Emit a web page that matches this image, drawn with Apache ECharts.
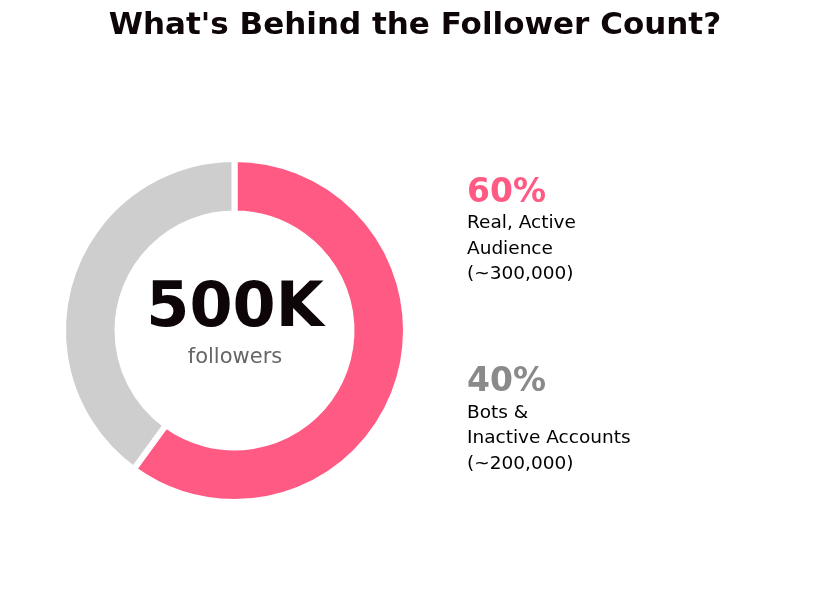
<!DOCTYPE html>
<html>
<head>
<meta charset="utf-8">
<script src="https://cdn.jsdelivr.net/npm/echarts@6/dist/echarts.min.js"></script>
<style>html,body{margin:0;padding:0;background:#fff;}#c{width:830px;height:600px;}</style>
</head>
<body>
<div id="c"></div>
<script>
var titleText = "What's Behind the Follower Count?";
var categories = ["Real, Active\nAudience\n(~300,000)", "Bots &\nInactive Accounts\n(~200,000)"];
var values = [60, 40];
var colors = ["#FF5A83", "#CECECE"];
var pctColors = ["#FF5A83", "#8A8A8A"];
var centerBig = "500K";
var centerSmall = "followers";

var chart = echarts.init(document.getElementById('c'), null, {renderer: 'canvas'});
var font = "'DejaVu Sans', sans-serif";
var total = values.reduce(function(a,b){return a+b;},0);

var pctY = [193.5, 382];
var labY = [249, 438.5];
var graphics = [
  {type:'text', left:'center', top:10, style:{text:titleText, font:"bold 31px " + font, fill:'#0d0508'}},
  {type:'text', x:235, y:310, style:{text:centerBig, font:"bold 62px " + font, fill:'#0d0508', align:'center', verticalAlign:'middle'}},
  {type:'text', x:235, y:358, style:{text:centerSmall, font:"21px " + font, fill:'#666666', align:'center', verticalAlign:'middle'}}
];
values.forEach(function(v, i){
  graphics.push({type:'text', x:467, y:pctY[i], style:{text:Math.round(v/total*100)+'%', font:"bold 33px " + font, fill:pctColors[i], align:'left', verticalAlign:'middle'}});
  graphics.push({type:'text', x:467, y:labY[i], style:{text:categories[i], font:"18.5px " + font, lineHeight:25.5, fill:'#000000', align:'left', verticalAlign:'middle'}});
});

chart.setOption({
  backgroundColor:'#ffffff',
  animation:false,
  graphic: graphics,
  series:[{
    type:'pie',
    center:[234.5, 330.5],
    radius:[117, 171.5],
    startAngle:90,
    clockwise:true,
    label:{show:false},
    labelLine:{show:false},
    emphasis:{disabled:true},
    itemStyle:{borderColor:'#ffffff', borderWidth:6},
    data: values.map(function(v,i){return {name:categories[i], value:v, itemStyle:{color:colors[i]}};})
  }]
});
</script>
</body>
</html>
